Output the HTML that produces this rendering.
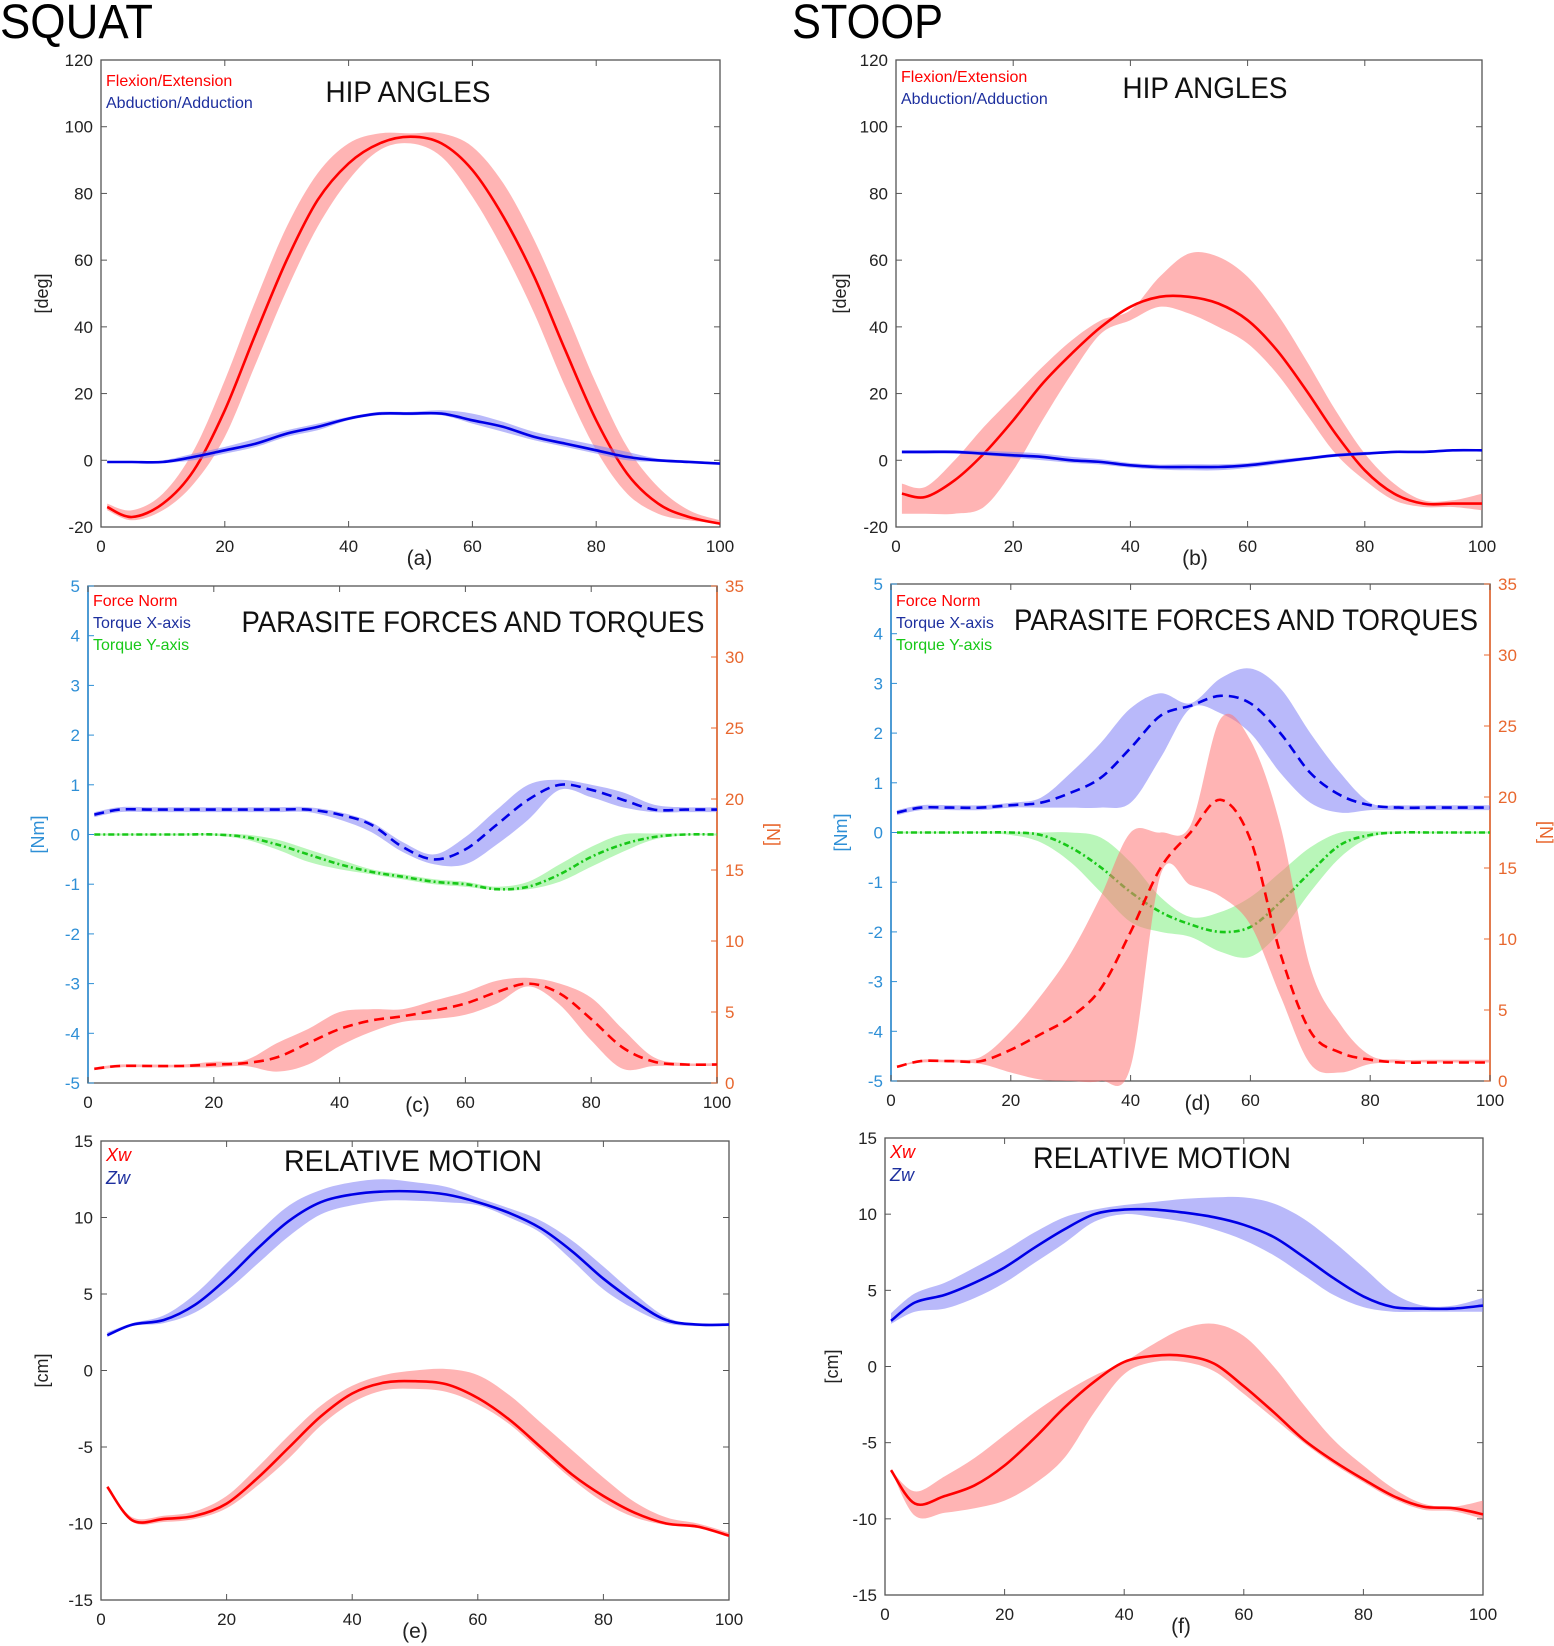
<!DOCTYPE html>
<html><head><meta charset="utf-8">
<style>
html,body{margin:0;padding:0;background:#fff;}
svg{display:block;font-family:"Liberation Sans",sans-serif;}
</style></head>
<body>
<svg id="fig" width="1554" height="1646" viewBox="0 0 1554 1646" xmlns="http://www.w3.org/2000/svg">
<text x="0" y="38" font-size="48" fill="#000" textLength="153" lengthAdjust="spacingAndGlyphs">SQUAT</text>
<text x="792" y="38" font-size="48" fill="#000" textLength="151" lengthAdjust="spacingAndGlyphs">STOOP</text>
</svg>
<script>
// shared x samples (percent of movement)
const xs = [1,5,10,15,20,25,30,35,40,45,50,55,60,65,70,75,80,85,90,95,100];
const xTicks = [0,20,40,60,80,100];

// Panel (a) squat hip angles
const aFlexMean = [-14,-17,-13,-3,15,38,60,78,89,95,97,95,87,73,55,33,12,-4,-13,-17,-19];
const aFlexHi   = [-13,-15,-10,3,24,48,70,86,95,98,98,98,94,83,66,45,23,4,-8,-15,-18];
const aFlexLo   = [-15,-18,-15,-7,7,29,51,70,84,93,95,91,79,63,44,22,3,-10,-16,-18,-19];
const aAbdMean  = [-0.5,-0.5,-0.5,1,3,5,8,10,12.5,14,14,14,12,10,7,5,3,1,0,-0.5,-1];
const aAbdHi    = [-0.3,-0.3,0,2,4,6.5,9,11,13,14.5,14.5,15,14,11.5,8.5,6.5,4.5,2.5,0.5,0,-0.8];
const aAbdLo    = [-0.7,-0.7,-0.8,0,2,4,7,9,12,13.5,13.5,13.5,11,8.5,6,4,2,0,-0.5,-0.8,-1.2];
const angTicks = [-20,0,20,40,60,80,100,120];

// Panel (b) stoop hip angles
const bFlexMean = [-10,-11,-6,2,12,23,32,40,46,49,49,47,42,33,21,8,-3,-10,-13,-13,-13];
const bFlexHi   = [-7,-8,0,10,19,28,36,42,45,55,62,61,55,44,30,15,2,-7,-12,-12,-10];
const bFlexLo   = [-16,-16,-16,-14,-3,12,26,38,42,46,44,40,35,26,14,2,-6,-12,-14,-14,-15];
const bAbdMean  = [2.5,2.5,2.5,2,1.5,1,0,-0.5,-1.5,-2,-2,-2,-1.5,-0.5,0.5,1.5,2,2.5,2.5,3,3];
const bAbdHi    = [3,3,3,2.8,2.5,2,1,0.3,-0.8,-1.3,-1.2,-1.2,-0.8,0.2,1,2,2.5,2.8,2.8,3.2,3.3];
const bAbdLo    = [2,2,2,1.5,0.8,0,-0.8,-1.3,-2.2,-2.8,-3,-3,-2.3,-1.2,0,1,1.5,2.2,2.3,2.8,2.7];

// Panel (c) squat parasite forces/torques
const cTxMean = [0.4,0.5,0.5,0.5,0.5,0.5,0.5,0.5,0.4,0.2,-0.25,-0.5,-0.3,0.2,0.7,1.0,0.9,0.7,0.5,0.5,0.5];
const cTxHi   = [0.45,0.55,0.55,0.55,0.55,0.55,0.55,0.55,0.45,0.25,-0.15,-0.4,-0.05,0.5,1.0,1.1,1.0,0.85,0.6,0.55,0.55];
const cTxLo   = [0.35,0.45,0.45,0.45,0.45,0.45,0.45,0.45,0.3,0.05,-0.35,-0.6,-0.6,-0.2,0.3,0.9,0.75,0.55,0.45,0.45,0.45];
const cTyMean = [0,0,0,0,0,-0.05,-0.2,-0.4,-0.6,-0.75,-0.85,-0.95,-1.0,-1.1,-1.05,-0.8,-0.45,-0.2,-0.05,0,0];
const cTyHi   = [0.02,0.02,0.02,0.02,0.02,0,-0.1,-0.3,-0.5,-0.7,-0.8,-0.9,-0.95,-1.05,-0.95,-0.6,-0.25,0,0.02,0.02,0.02];
const cTyLo   = [-0.02,-0.02,-0.02,-0.02,-0.02,-0.1,-0.3,-0.55,-0.7,-0.8,-0.9,-1.0,-1.05,-1.12,-1.1,-0.95,-0.65,-0.35,-0.1,-0.02,-0.02];
const cFMean  = [1,1.2,1.2,1.2,1.3,1.4,1.8,2.8,3.8,4.4,4.7,5.1,5.6,6.4,7.0,6.3,4.5,2.5,1.5,1.3,1.3];
const cFHi    = [1.1,1.3,1.3,1.3,1.5,1.6,2.8,3.8,5.0,5.2,5.2,5.8,6.4,7.2,7.4,7.0,6.0,3.8,1.8,1.4,1.4];
const cFLo    = [0.9,1.1,1.1,1.1,1.1,1.2,0.8,1.3,2.6,3.6,4.3,4.5,4.8,5.6,6.8,5.5,3.0,1.0,1.2,1.2,1.2];
const nmTicks = [-5,-4,-3,-2,-1,0,1,2,3,4,5];
const nTicks  = [0,5,10,15,20,25,30,35];

// Panel (d) stoop parasite forces/torques
const dTxMean = [0.4,0.5,0.5,0.5,0.55,0.6,0.8,1.1,1.7,2.35,2.55,2.75,2.6,2.0,1.2,0.75,0.55,0.5,0.5,0.5,0.5];
const dTxHi   = [0.45,0.55,0.55,0.55,0.6,0.7,1.2,1.8,2.5,2.8,2.6,3.1,3.3,2.9,2.0,1.2,0.6,0.55,0.55,0.55,0.55];
const dTxLo   = [0.35,0.45,0.45,0.45,0.5,0.5,0.5,0.5,0.6,1.5,2.5,2.4,2.0,1.2,0.6,0.4,0.45,0.45,0.45,0.45,0.45];
const dTyMean = [0,0,0,0,0,-0.05,-0.3,-0.7,-1.2,-1.6,-1.85,-2.0,-1.9,-1.4,-0.8,-0.25,-0.05,0,0,0,0];
const dTyHi   = [0.02,0.02,0.02,0.02,0.02,0,0,-0.1,-0.6,-1.3,-1.7,-1.6,-1.3,-0.8,-0.3,0,0.02,0.02,0.02,0.02,0.02];
const dTyLo   = [-0.02,-0.02,-0.02,-0.02,-0.05,-0.2,-0.6,-1.2,-1.8,-2.0,-2.1,-2.4,-2.5,-2.0,-1.2,-0.5,-0.1,-0.02,-0.02,-0.02,-0.02];
const dFMean  = [1,1.4,1.4,1.4,2.2,3.3,4.5,6.5,10.5,15.0,17.5,19.8,17,9,3.5,2,1.5,1.3,1.3,1.3,1.3];
const dFHi    = [1,1.5,1.5,1.7,3.5,6,9,13,17.5,17.5,18,25.5,24,18,8,4,1.8,1.5,1.5,1.5,1.5];
const dFLo    = [1,1.3,1.3,1.2,0.6,0.1,0,0,1,14.5,13.8,13,11,6,1.2,0.6,1.2,1.3,1.3,1.3,1.3];

// Panel (e) squat relative motion
const eZMean = [2.3,3,3.3,4.3,6,8,9.8,11,11.5,11.7,11.7,11.5,11,10.3,9.3,7.8,6,4.5,3.3,3,3];
const eZHi   = [2.5,3.1,3.6,5,7,9,10.8,11.8,12.3,12.5,12.3,12,11.3,10.6,9.8,8.5,6.8,5,3.5,3,3.1];
const eZLo   = [2.2,2.9,3.1,3.8,5.2,7,8.8,10.2,10.8,11.1,11.1,11,10.8,10,9,7.2,5.3,4,3.1,2.9,2.9];
const eXMean = [-7.6,-9.8,-9.7,-9.5,-8.7,-7,-5,-3,-1.5,-0.8,-0.7,-0.9,-1.8,-3.2,-5,-6.8,-8.2,-9.3,-10,-10.2,-10.8];
const eXHi   = [-7.6,-9.6,-9.5,-9.2,-8.2,-6.3,-4.2,-2.3,-1.0,-0.3,0,0.1,-0.3,-1.6,-3.4,-5.2,-7,-8.6,-9.6,-10,-10.6];
const eXLo   = [-7.6,-9.9,-9.9,-9.7,-9.0,-7.5,-5.7,-3.6,-2.1,-1.3,-1.2,-1.4,-2.2,-3.5,-5.3,-7.1,-8.6,-9.6,-10.1,-10.3,-10.9];
const cmTicks = [-15,-10,-5,0,5,10,15];

// Panel (f) stoop relative motion
const fZMean = [3,4.2,4.7,5.5,6.5,7.8,9,10,10.3,10.3,10.1,9.8,9.3,8.5,7.2,5.8,4.6,3.9,3.8,3.8,4];
const fZHi   = [3.5,4.8,5.5,6.5,7.6,8.8,9.8,10.3,10.6,10.8,11,11.1,11.1,10.7,9.7,8.2,6.5,4.8,4,4,4.5];
const fZLo   = [2.8,3.6,3.8,4.5,5.5,6.8,8.1,9.5,10,9.8,9.5,9,8.3,7.3,6,4.7,3.9,3.6,3.6,3.6,3.6];
const fXMean = [-6.8,-9,-8.5,-7.8,-6.5,-4.7,-2.7,-1,0.3,0.7,0.7,0.2,-1.3,-3,-4.8,-6.2,-7.4,-8.5,-9.2,-9.3,-9.7];
const fXHi   = [-6.8,-8.2,-7.2,-6,-4.5,-3,-1.7,-0.6,0.3,1.5,2.5,2.8,2,0,-2.5,-4.8,-6.5,-8,-9,-9.2,-8.8];
const fXLo   = [-6.8,-9.8,-9.6,-9.3,-8.8,-7.7,-6,-3,-0.5,0.3,0.3,-0.3,-1.8,-3.4,-5,-6.4,-7.6,-8.7,-9.4,-9.5,-10];

const NS = "http://www.w3.org/2000/svg";
const svg = document.getElementById("fig");
function mk(tag, attrs, parent){
  const e = document.createElementNS(NS, tag);
  for (const k in attrs) e.setAttribute(k, attrs[k]);
  (parent||svg).appendChild(e);
  return e;
}
function smooth(pts){
  let d = "M" + pts[0][0].toFixed(1) + "," + pts[0][1].toFixed(1);
  for (let i=0;i<pts.length-1;i++){
    const p0 = pts[Math.max(0,i-1)], p1 = pts[i], p2 = pts[i+1], p3 = pts[Math.min(pts.length-1,i+2)];
    const c1x = p1[0]+(p2[0]-p0[0])/6, c1y = p1[1]+(p2[1]-p0[1])/6;
    const c2x = p2[0]-(p3[0]-p1[0])/6, c2y = p2[1]-(p3[1]-p1[1])/6;
    d += " C"+c1x.toFixed(1)+","+c1y.toFixed(1)+" "+c2x.toFixed(1)+","+c2y.toFixed(1)+" "+p2[0].toFixed(1)+","+p2[1].toFixed(1);
  }
  return d;
}
function makeAxes(L,R,T,B,xmin,xmax,ymin,ymax){
  return {
    sx: v => L + (v-xmin)/(xmax-xmin)*(R-L),
    sy: v => B - (v-ymin)/(ymax-ymin)*(B-T)
  };
}
function drawSeries(g, sx, sy, mean, hi, lo, col, fill, dash, name){
  const up = xs.map((x,i)=>[sx(x), sy(hi[i])]);
  const dn = xs.map((x,i)=>[sx(x), sy(lo[i])]).reverse();
  const bandD = smooth(up) + " L" + dn[0][0].toFixed(1)+","+dn[0][1].toFixed(1) + smooth(dn).replace(/^M[^C]*/, " ") + " Z";
  const band = mk("path", {d: bandD, fill: fill, "fill-opacity": 0.55, stroke: "none"}, g);
  
  
  const line = mk("path", {d: smooth(xs.map((x,i)=>[sx(x), sy(mean[i])])), fill: "none", stroke: col, "stroke-width": 2.6}, g);
  if (dash) line.setAttribute("stroke-dasharray", dash);
  
  
}
function panel(cfg){
  const g = mk("g", {});
  
  
  const {L,R,T,B} = cfg;
  const ax = makeAxes(L,R,T,B,0,100,cfg.ymin,cfg.ymax);
  const frame = mk("rect", {x:L, y:T, width:R-L, height:B-T, fill:"none", stroke:"#555", "stroke-width":1.3}, g);
  
  
  if (cfg.leftColor){
    mk("line",{x1:L,y1:T,x2:L,y2:B,stroke:cfg.leftColor,"stroke-width":1.6},g);
    mk("line",{x1:R,y1:T,x2:R,y2:B,stroke:cfg.rightColor,"stroke-width":1.6},g);
  }
  xTicks.forEach(v=>{
    const x = ax.sx(v);
    mk("line",{x1:x,y1:B,x2:x,y2:B-6,stroke:"#555"},g);
    mk("line",{x1:x,y1:T,x2:x,y2:T+6,stroke:"#555"},g);
    const t = mk("text",{x:x, y:B+25, "font-size":17, "text-anchor":"middle", fill:"#222"},g);
    t.textContent = v;
    
    
  });
  cfg.yTicks.forEach(v=>{
    const y = ax.sy(v);
    mk("line",{x1:L,y1:y,x2:L+6,y2:y,stroke:cfg.leftColor||"#555"},g);
    if (!cfg.rightTicks) mk("line",{x1:R,y1:y,x2:R-6,y2:y,stroke:"#555"},g);
    const t = mk("text",{x:L-8, y:y+6, "font-size":17, "text-anchor":"end", fill:cfg.leftColor||"#222"},g);
    t.textContent = v;
    
    
  });
  if (cfg.rightTicks){
    const ry = v => B - (v-0)/35*(B-T);
    cfg.rightTicks.forEach(v=>{
      const y = ry(v);
      mk("line",{x1:R,y1:y,x2:R-6,y2:y,stroke:cfg.rightColor},g);
      const t = mk("text",{x:R+8, y:y+6, "font-size":17, "text-anchor":"start", fill:cfg.rightColor},g);
      t.textContent = v;
      
      
    });
    const rl = mk("text",{x:0,y:0,"font-size":18,"text-anchor":"middle",fill:cfg.rightColor,transform:`translate(${R+50},${(T+B)/2}) rotate(90)`},g);
    rl.textContent = "[N]";
    
    
  }
  const yl = mk("text",{x:0,y:0,"font-size":18,"text-anchor":"middle",fill:cfg.leftColor||"#222",transform:`translate(${cfg.ylabX},${(T+B)/2}) rotate(-90)`},g);
  yl.textContent = cfg.ylab;
  
  
  const cap = mk("text",{x:(L+R)/2+cfg.capDx, y:B+cfg.capDy, "font-size":21, "text-anchor":"middle", fill:"#222"},g);
  cap.textContent = cfg.caption;
  
  
  const ttl = mk("text",{x:cfg.titleX, y:cfg.titleY, "font-size":cfg.titleSize, "text-anchor":"middle", fill:"#111", textLength:cfg.titleW, lengthAdjust:"spacingAndGlyphs"},g);
  ttl.textContent = cfg.title;
  
  
  cfg.legend.forEach((it,i)=>{
    const t = mk("text",{x:L+5, y:T+cfg.legY+i*cfg.legStep, "font-size":cfg.legSize, fill:it[1], "font-style":it[2]||"normal"},g);
    t.textContent = it[0];
    
    
  });
  return {g, ax, ry: v => B - v/35*(B-T)};
}
const RED="#ff0000", RF="#f77", BLUE="#0000e6", BF="#7f7ff5", GREEN="#18c818", GF="#7fee7f";
const NAVY="#1d2f9e";
const LBLUE="#2e8fd6", ORANGE="#e8672e";

// (a)
let p = panel({name:"panel-a-squat-hip-angles",L:101,R:720,T:60,B:527,ymin:-20,ymax:120,yTicks:angTicks,ylab:"[deg]",ylabX:48,caption:"(a)",capDx:9,capDy:38,title:"HIP ANGLES",titleX:408,titleY:102,titleSize:30,titleW:165,legend:[["Flexion/Extension",RED],["Abduction/Adduction",NAVY]],legY:26,legStep:22,legSize:16});
drawSeries(p.g,p.ax.sx,p.ax.sy,aFlexMean,aFlexHi,aFlexLo,RED,RF,null,"flexion");
drawSeries(p.g,p.ax.sx,p.ax.sy,aAbdMean,aAbdHi,aAbdLo,BLUE,BF,null,"abduction");
// (b)
p = panel({name:"panel-b-stoop-hip-angles",L:896,R:1482,T:60,B:527,ymin:-20,ymax:120,yTicks:angTicks,ylab:"[deg]",ylabX:846,caption:"(b)",capDx:6,capDy:38,title:"HIP ANGLES",titleX:1205,titleY:98,titleSize:30,titleW:165,legend:[["Flexion/Extension",RED],["Abduction/Adduction",NAVY]],legY:22,legStep:22,legSize:16});
drawSeries(p.g,p.ax.sx,p.ax.sy,bFlexMean,bFlexHi,bFlexLo,RED,RF,null,"flexion");
drawSeries(p.g,p.ax.sx,p.ax.sy,bAbdMean,bAbdHi,bAbdLo,BLUE,BF,null,"abduction");
// (c)
p = panel({name:"panel-c-squat-parasite-forces",L:88,R:717,T:586,B:1083,ymin:-5,ymax:5,yTicks:nmTicks,rightTicks:nTicks,leftColor:LBLUE,rightColor:ORANGE,ylab:"[Nm]",ylabX:44,caption:"(c)",capDx:15,capDy:29,title:"PARASITE FORCES AND TORQUES",titleX:473,titleY:632,titleSize:30,titleW:463,legend:[["Force Norm",RED],["Torque X-axis",NAVY],["Torque Y-axis",GREEN]],legY:20,legStep:22,legSize:16});
drawSeries(p.g,p.ax.sx,p.ax.sy,cTxMean,cTxHi,cTxLo,BLUE,BF,"10,6","torque-x");
drawSeries(p.g,p.ax.sx,p.ax.sy,cTyMean,cTyHi,cTyLo,GREEN,GF,"6,3,2,3","torque-y");
drawSeries(p.g,p.ax.sx,p.ry,cFMean,cFHi,cFLo,RED,RF,"10,6","force-norm");
// (d)
p = panel({name:"panel-d-stoop-parasite-forces",L:891,R:1490,T:584,B:1081,ymin:-5,ymax:5,yTicks:nmTicks,rightTicks:nTicks,leftColor:LBLUE,rightColor:ORANGE,ylab:"[Nm]",ylabX:847,caption:"(d)",capDx:7,capDy:29,title:"PARASITE FORCES AND TORQUES",titleX:1246,titleY:630,titleSize:30,titleW:464,legend:[["Force Norm",RED],["Torque X-axis",NAVY],["Torque Y-axis",GREEN]],legY:22,legStep:22,legSize:16});
drawSeries(p.g,p.ax.sx,p.ax.sy,dTxMean,dTxHi,dTxLo,BLUE,BF,"10,6","torque-x");
drawSeries(p.g,p.ax.sx,p.ax.sy,dTyMean,dTyHi,dTyLo,GREEN,GF,"6,3,2,3","torque-y");
drawSeries(p.g,p.ax.sx,p.ry,dFMean,dFHi,dFLo,RED,RF,"10,6","force-norm");
// (e)
p = panel({name:"panel-e-squat-relative-motion",L:101,R:729,T:1141,B:1600,ymin:-15,ymax:15,yTicks:cmTicks,ylab:"[cm]",ylabX:48,caption:"(e)",capDx:0,capDy:38,title:"RELATIVE MOTION",titleX:413,titleY:1171,titleSize:30,titleW:258,legend:[["Xw",RED,"italic"],["Zw",NAVY,"italic"]],legY:20,legStep:23,legSize:18});
drawSeries(p.g,p.ax.sx,p.ax.sy,eZMean,eZHi,eZLo,BLUE,BF,null,"z-w");
drawSeries(p.g,p.ax.sx,p.ax.sy,eXMean,eXHi,eXLo,RED,RF,null,"x-w");
// (f)
p = panel({name:"panel-f-stoop-relative-motion",L:885,R:1483,T:1138,B:1595,ymin:-15,ymax:15,yTicks:cmTicks,ylab:"[cm]",ylabX:838,caption:"(f)",capDx:-3,capDy:38,title:"RELATIVE MOTION",titleX:1162,titleY:1168,titleSize:30,titleW:258,legend:[["Xw",RED,"italic"],["Zw",NAVY,"italic"]],legY:20,legStep:23,legSize:18});
drawSeries(p.g,p.ax.sx,p.ax.sy,fZMean,fZHi,fZLo,BLUE,BF,null,"z-w");
drawSeries(p.g,p.ax.sx,p.ax.sy,fXMean,fXHi,fXLo,RED,RF,null,"x-w");
</script>
</body></html>
